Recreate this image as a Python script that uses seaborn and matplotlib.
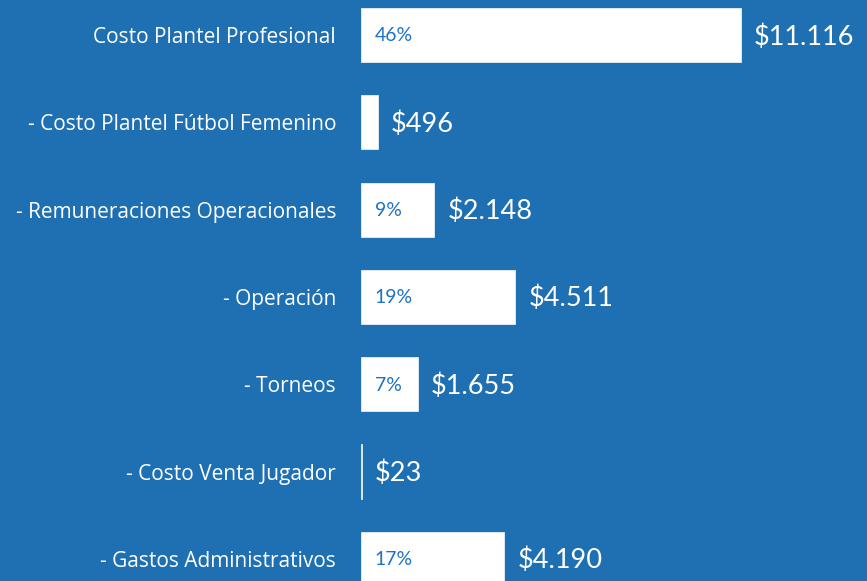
import matplotlib
matplotlib.use("Agg")
import matplotlib.pyplot as plt
import seaborn as sns
import pandas as pd

categories = [
    "Costo Plantel Profesional",
    "- Costo Plantel Fútbol Femenino",
    "- Remuneraciones Operacionales",
    "- Operación",
    "- Torneos",
    "- Costo Venta Jugador",
    "- Gastos Administrativos",
]
values = [11116, 496, 2148, 4511, 1655, 23, 4190]
value_labels = ["$11.116", "$496", "$2.148", "$4.511", "$1.655", "$23", "$4.190"]
pct_labels = ["46%", "", "9%", "19%", "7%", "", "17%"]

BG = "#1f70b3"
PCT_COLOR = "#1f72c4"

sns.set_theme(style="white")
plt.rcParams["font.family"] = ["Lato", "DejaVu Sans"]

df = pd.DataFrame({"cat": categories, "val": values})

fig = plt.figure(figsize=(8.67, 5.81), dpi=100)
fig.patch.set_facecolor(BG)
ax = fig.add_axes([361 / 867, 0, 1 - 361 / 867, 1])
ax.set_facecolor(BG)

sns.barplot(data=df, y="cat", x="val", orient="h", color="white",
            width=0.62, saturation=1, ax=ax, edgecolor="none")
for p in ax.patches:
    p.set_facecolor("white")
    p.set_edgecolor("#e8eef5")
    p.set_linewidth(0.6)

ax.set_xlim(0, 14800)
ax.set_ylim(6.254, -0.401)
for s in ax.spines.values():
    s.set_visible(False)
ax.set_xlabel("")
ax.set_ylabel("")
ax.set_xticks([])
ax.tick_params(axis="y", length=0, pad=18, labelcolor="white")
ax.set_yticks(range(len(categories)))
ax.set_yticklabels(categories, fontsize=15, family=["Open Sans", "DejaVu Sans"])

for i, (v, vl, pl) in enumerate(zip(values, value_labels, pct_labels)):
    ax.text(v + 380, i + 0.02, vl, va="center", ha="left", color="white", fontsize=19.5)
    if pl:
        ax.text(400, i + 0.01, pl, va="center", ha="left", color=PCT_COLOR, fontsize=14)

fig.savefig("out.png", dpi=100, facecolor=BG)
